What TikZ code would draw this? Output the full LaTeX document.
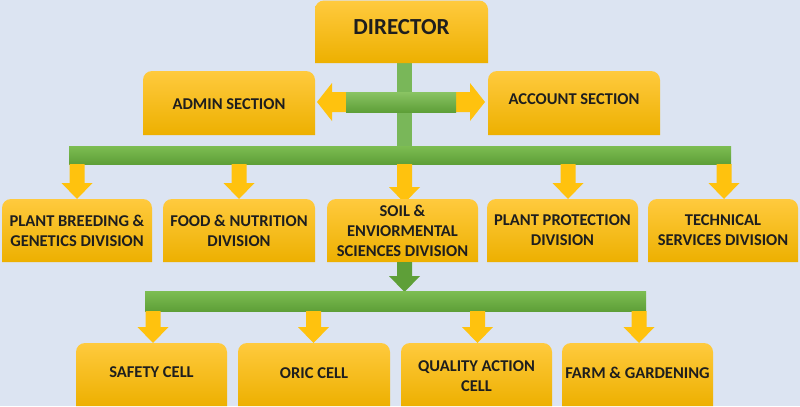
\documentclass[tikz,border=0pt]{standalone}
\usepackage{fontspec}
\setmainfont{Carlito}
\definecolor{bgcol}{HTML}{DCE4F2}
\definecolor{ytop}{HTML}{FFCA3E}
\definecolor{ymid}{HTML}{FFC000}
\definecolor{ybot}{HTML}{EDB000}
\definecolor{yarr}{HTML}{FFC20E}
\definecolor{gtop}{HTML}{7DBD52}
\definecolor{gbot}{HTML}{5E9F38}
\definecolor{gstem}{HTML}{79B759}
\definecolor{txt}{HTML}{1E1E1E}
\tikzset{
  boxshade/.style={top color=ytop, middle color=ymid, bottom color=ybot},
  boxtext/.style={inner sep=0pt, align=center, text=txt, font=\bfseries\fontsize{16.5bp}{20bp}\selectfont},
  gbar/.style={top color=gtop, bottom color=gbot, inner sep=0pt, outer sep=0pt, anchor=north west},
  yarrow/.style={fill=yarr},
  garrow/.style={fill=gbot}
}
\newcommand\ybox[6]{%
  \shade[boxshade] (#2,#5) [rounded corners=9bp] -- (#2,#3) -- (#4,#3) [sharp corners] -- (#4,#5) -- cycle;
  \node[boxtext] (#1) at ({(#2+#4)/2},{(#3+#5)/2}) {#6};
}
% down block arrow: centre x, top y, tip y, style
\newcommand\darr[4]{%
  \fill[#4] ({#1-7.5},#2) -- ({#1+7.5},#2) -- ({#1+7.5},{#3-16}) -- ({#1+15.5},{#3-16}) -- (#1,#3) -- ({#1-15.5},{#3-16}) -- ({#1-7.5},{#3-16}) -- cycle;
}
\begin{document}
\begin{tikzpicture}[x=1bp,y=-1bp]
\fill[bgcol] (0,0) rectangle (800,406);
\useasboundingbox (0,0) rectangle (800,406);
% stem
\fill[gstem] (397,60) rectangle (412,150);
% director
\shade[boxshade] (315,63) [rounded corners=9bp] -- (315,0.5) -- (488,0.5) [sharp corners] -- (488,63) -- cycle;
\node[boxtext, font=\bfseries\fontsize{23bp}{26bp}\selectfont] (dir) at (401.5,27) {DIRECTOR};
% admin / account
\ybox{admin}{143}{71}{315}{135}{}
\node[boxtext] (admint) at (229,104) {ADMIN SECTION};
\ybox{acc}{488}{71}{660}{135}{}
\node[boxtext] (acct) at (574,99.5) {ACCOUNT SECTION};
% side arrows
\fill[yarrow] (346,92) -- (332,92) -- (332,83) -- (317,102) -- (332,121) -- (332,112) -- (346,112) -- cycle;
\fill[yarrow] (456,92) -- (470,92) -- (470,83) -- (485,102) -- (470,121) -- (470,112) -- (456,112) -- cycle;
\node[gbar, top color=gtop!90!white, bottom color=gbot, minimum width=110bp, minimum height=20bp] (hbar) at (346,92) {};
% main bar
\node[gbar, minimum width=662bp, minimum height=18bp] (bar1) at (69,146) {};
% division arrows
\darr{77}{164}{199}{yarrow}
\darr{239}{164}{199}{yarrow}
\darr{404.5}{164}{203}{yarrow}
\darr{568}{164}{199}{yarrow}
\darr{724}{164}{199}{yarrow}
% divisions
\ybox{d1}{2}{199}{152}{262}{PLANT BREEDING \&\\GENETICS DIVISION}
\ybox{d2}{163}{199}{315}{262}{FOOD \& NUTRITION\\DIVISION}
\ybox{d3}{327}{199}{478}{262}{SOIL \&\\ENVIORMENTAL\\SCIENCES DIVISION}
\ybox{d4}{487}{199}{638}{262}{PLANT PROTECTION\\DIVISION}
\ybox{d5}{648}{199}{798}{262}{TECHNICAL\\SERVICES DIVISION}
% green arrow to lower bar
\darr{404.5}{262}{292}{garrow}
\node[gbar, minimum width=501bp, minimum height=20bp] (bar2) at (145,291) {};
% cell arrows
\darr{153}{311}{343}{yarrow}
\darr{313.5}{311}{343}{yarrow}
\darr{477.5}{311}{343}{yarrow}
\darr{639}{311}{343}{yarrow}
% cells
\ybox{c1}{76}{343}{227}{406}{}
\node[boxtext] (c1t) at (151.5,372) {SAFETY CELL};
\ybox{c2}{238}{343}{390}{406}{}
\node[boxtext] (c2t) at (314,373) {ORIC CELL};
\ybox{c3}{401}{343}{552}{406}{}
\node[boxtext] (c3t) at (476.5,376) {QUALITY ACTION\\CELL};
\ybox{c4}{562}{343}{713}{406}{}
\node[boxtext] (c4t) at (637.5,373) {FARM \& GARDENING};
\end{tikzpicture}
\end{document}
